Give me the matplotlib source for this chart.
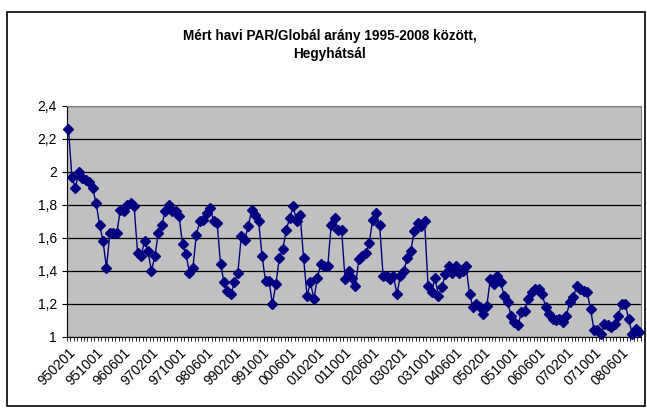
import numpy as np
import pandas as pd
import matplotlib
matplotlib.use("Agg")
import matplotlib.pyplot as plt
from matplotlib.patches import Rectangle

plt.rcParams['font.family'] = ['Liberation Sans', 'DejaVu Sans']

# monthly PAR/global ratio, 1995-02 .. 2008-11
months = pd.date_range("1995-02-01", "2008-11-01", freq="MS").strftime("%y%m%d").tolist()
ratio = [
    2.26, 1.97, 1.90, 2.00, 1.96, 1.95, 1.94, 1.90, 1.81, 1.68,
    1.58, 1.42, 1.63, 1.63, 1.63, 1.77, 1.76, 1.80, 1.81, 1.79,
    1.51, 1.49, 1.58, 1.52, 1.40, 1.49, 1.63, 1.68, 1.76, 1.80,
    1.76, 1.76, 1.73, 1.56, 1.50, 1.39, 1.42, 1.62, 1.70, 1.71,
    1.75, 1.78, 1.70, 1.69, 1.44, 1.33, 1.28, 1.26, 1.33, 1.39,
    1.61, 1.59, 1.67, 1.77, 1.74, 1.70, 1.49, 1.34, 1.34, 1.20,
    1.32, 1.48, 1.53, 1.65, 1.72, 1.79, 1.70, 1.74, 1.48, 1.25,
    1.33, 1.23, 1.36, 1.44, 1.43, 1.43, 1.68, 1.72, 1.65, 1.65,
    1.35, 1.40, 1.36, 1.31, 1.47, 1.49, 1.51, 1.57, 1.71, 1.75,
    1.68, 1.37, 1.37, 1.35, 1.37, 1.26, 1.37, 1.40, 1.48, 1.52,
    1.64, 1.69, 1.67, 1.70, 1.31, 1.27, 1.36, 1.25, 1.30, 1.38,
    1.43, 1.39, 1.43, 1.39, 1.40, 1.43, 1.26, 1.18, 1.20, 1.18,
    1.14, 1.19, 1.35, 1.32, 1.37, 1.33, 1.25, 1.21, 1.13, 1.09,
    1.07, 1.15, 1.16, 1.23, 1.27, 1.29, 1.29, 1.26, 1.18, 1.14,
    1.11, 1.10, 1.11, 1.09, 1.13, 1.21, 1.24, 1.31, 1.29, 1.28,
    1.27, 1.17, 1.04, 1.04, 1.02, 1.08, 1.07, 1.06, 1.08, 1.13,
    1.20, 1.20, 1.11, 1.02, 1.05, 1.03,
]
y_ticks = [1.0, 1.2, 1.4, 1.6, 1.8, 2.0, 2.2, 2.4]
title = "Mért havi PAR/Globál arány 1995-2008 között,\nHegyhátsál"

W, H = 647, 408
fig = plt.figure(figsize=(W / 100, H / 100), dpi=100)

# chart area border
fig.patches.append(Rectangle((7 / W, 2 / H), 638 / W, 394 / H, transform=fig.transFigure,
                             fill=False, edgecolor="black", linewidth=1.2))

ax = fig.add_axes([66.7 / W, 1 - 337 / H, 574 / W, 231.3 / H])
ax.set_facecolor("#C0C0C0")

x = np.arange(len(ratio))
ax.plot(x, ratio, color="#000080", linewidth=1.0, marker="D", markersize=4.8,
        markerfacecolor="#000080", markeredgecolor="#000080", clip_on=False, zorder=3)

ax.set_xlim(-0.5, len(ratio) - 0.5)
ax.set_ylim(1, 2.4)

ax.set_yticks(y_ticks)
ax.set_yticklabels([("%g" % v).replace(".", ",") for v in y_ticks], fontsize=10)
ax.yaxis.grid(True, color="black", linewidth=0.9)
ax.set_axisbelow(True)

ax.set_xticks(x[::8])
ax.set_xticklabels(months[::8], rotation=45, ha="right", rotation_mode="anchor", fontsize=10)
ax.set_xticks(np.arange(len(ratio) + 1) - 0.5, minor=True)
ax.tick_params(axis="x", which="major", length=0, pad=6)
ax.tick_params(axis="x", which="minor", length=3, width=0.6, direction="out")
ax.tick_params(axis="y", length=3.5, width=0.8, pad=3.5)

for side in ["top", "right"]:
    ax.spines[side].set_color("#808080")
for side in ["left", "bottom"]:
    ax.spines[side].set_color("black")

fig.text(0.51, 1 - 45 / H, title, ha="center", va="center", fontsize=9.8,
         fontweight="bold", linespacing=1.4)

fig.savefig("out.png", dpi=100)
